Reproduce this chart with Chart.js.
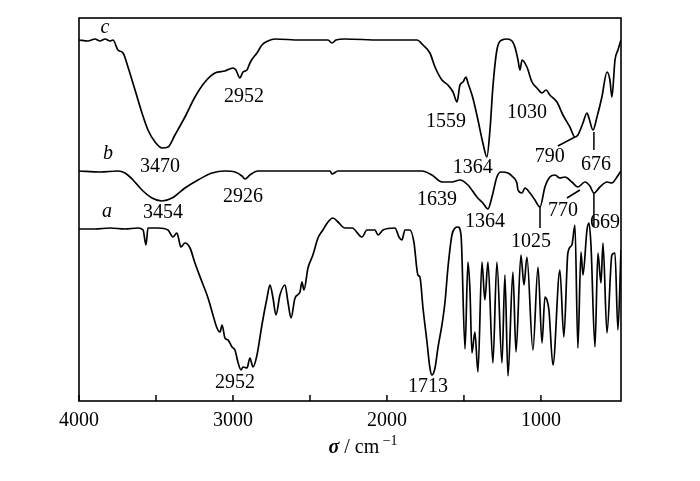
<!DOCTYPE html>
<html>
<head>
<meta charset="utf-8">
<script src="https://cdn.jsdelivr.net/npm/chart.js@4.4.0/dist/chart.umd.min.js"></script>
<style>
  html, body { margin: 0; padding: 0; background: #fff; }
</style>
</head>
<body>
<canvas id="irChart" width="700" height="481"></canvas>
<script>
// Wavenumber (cm-1) and relative transmittance (arbitrary units, curves offset)
const waveC = [4000, 3942, 3896, 3864, 3831, 3799, 3779, 3747, 3714, 3682, 3636, 3591, 3552, 3506, 3461, 3422, 3377, 3312, 3247, 3182, 3117, 3052, 3000, 2981, 2955, 2935, 2909, 2890, 2870, 2844, 2812, 2773, 2727, 2565, 2383, 2357, 2331, 2273, 2045, 1805, 1766, 1721, 1688, 1643, 1604, 1571, 1545, 1526, 1506, 1487, 1474, 1442, 1409, 1377, 1351, 1331, 1312, 1286, 1253, 1221, 1188, 1169, 1149, 1136, 1123, 1091, 1058, 1026, 993, 967, 942, 896, 857, 812, 779, 760, 727, 701, 688, 662, 636, 604, 571, 552, 539, 519, 500, 480];
const transC = [361, 360, 362, 360, 362, 360, 361, 351, 348, 334, 311, 288, 271, 259, 253, 254, 266, 284, 304, 319, 328, 330, 333, 331, 323, 329, 331, 338, 343, 348, 356, 360, 362, 361, 361, 358, 361, 362, 361, 361, 356, 348, 334, 321, 316, 309, 299, 316, 319, 324, 318, 303, 281, 258, 244, 271, 314, 351, 361, 362, 360, 354, 341, 331, 341, 334, 319, 313, 308, 311, 306, 299, 286, 274, 264, 266, 278, 288, 283, 271, 284, 304, 329, 321, 304, 341, 351, 361];

const waveB = [4000, 3864, 3747, 3701, 3649, 3591, 3526, 3461, 3396, 3312, 3227, 3136, 3052, 2987, 2942, 2922, 2890, 2838, 2565, 2370, 2357, 2318, 2045, 1773, 1708, 1643, 1578, 1526, 1474, 1416, 1377, 1344, 1318, 1286, 1260, 1214, 1182, 1156, 1149, 1123, 1104, 1071, 1039, 1006, 974, 942, 909, 877, 844, 799, 760, 714, 682, 656, 617, 571, 539, 506, 480];
const transB = [230, 229, 230, 228, 221, 211, 203, 200, 203, 213, 221, 228, 230, 229, 225, 222, 226, 230, 230, 230, 227, 230, 230, 230, 226, 219, 219, 221, 216, 204, 198, 192, 204, 224, 229, 228, 224, 218, 211, 208, 213, 208, 201, 194, 214, 224, 226, 223, 224, 219, 214, 219, 215, 208, 214, 219, 218, 224, 230];

const waveA = [4000, 3896, 3799, 3701, 3617, 3584, 3565, 3552, 3487, 3422, 3390, 3364, 3338, 3312, 3279, 3247, 3201, 3162, 3130, 3104, 3084, 3071, 3052, 3032, 3006, 2987, 2968, 2948, 2935, 2909, 2890, 2870, 2844, 2812, 2779, 2760, 2740, 2721, 2695, 2662, 2643, 2623, 2597, 2565, 2552, 2539, 2513, 2481, 2448, 2416, 2383, 2351, 2318, 2273, 2227, 2162, 2130, 2078, 2058, 2026, 1948, 1922, 1903, 1883, 1851, 1825, 1799, 1786, 1766, 1740, 1721, 1708, 1688, 1669, 1643, 1623, 1604, 1578, 1558, 1539, 1519, 1493, 1474, 1461, 1448, 1429, 1409, 1383, 1364, 1344, 1312, 1286, 1253, 1234, 1214, 1182, 1162, 1130, 1110, 1091, 1052, 1019, 993, 974, 961, 948, 922, 877, 851, 825, 799, 779, 760, 740, 727, 701, 688, 675, 649, 630, 610, 597, 571, 539, 519, 500, 480];
const transA = [172, 172, 173, 172, 173, 171, 156, 173, 173, 171, 164, 168, 154, 158, 153, 138, 119, 103, 86, 73, 69, 76, 63, 61, 54, 51, 39, 31, 34, 33, 43, 34, 46, 76, 103, 116, 103, 86, 106, 116, 99, 83, 103, 109, 119, 111, 133, 146, 163, 171, 179, 183, 179, 173, 173, 164, 171, 171, 166, 171, 173, 164, 161, 171, 171, 159, 126, 124, 93, 59, 33, 26, 33, 53, 76, 99, 133, 166, 173, 174, 166, 52, 139, 111, 48, 69, 29, 139, 101, 139, 38, 139, 38, 126, 25, 129, 49, 146, 116, 144, 51, 134, 58, 104, 101, 91, 36, 131, 64, 148, 156, 176, 53, 149, 126, 171, 178, 156, 54, 148, 118, 158, 68, 146, 148, 71, 151];

const xTicks = [4000, 3000, 2000, 1000];
const xMinorTicks = [3500, 2500, 1500];

// Peak labels: text, wavenumber of label centre, level of label centre
const peakText = ["3470", "2952", "1559", "1364", "1030", "790", "676",
                  "3454", "2926", "1639", "1364", "1025", "770", "669",
                  "2952", "1713"];
const peakWave = [3474, 2929, 1617, 1442, 1091, 942, 643,
                  3455, 2935, 1675, 1364, 1065, 857, 584,
                  2987, 1734];
const peakLevel = [234, 304, 279, 233, 288, 244, 236,
                   188, 204, 201, 179, 159, 190, 178,
                   18, 14];

// Curve names
const curveText = ["c", "b", "a"];
const curveWave = [3831, 3812, 3818];
const curveLevel = [373, 247, 189];

// Leader lines [w1, v1, w2, v2]
const leaders = [
  [890, 255, 779, 264],
  [656, 269, 656, 251],
  [831, 203, 747, 211],
  [1006, 195, 1006, 173],
  [656, 208, 656, 174],
];

const toPoints = (w, t) => w.map((v, i) => ({ x: v, y: t[i] }));

const serif = "'Liberation Serif', 'Times New Roman', serif";

const lineSet = (w, t) => ({
  data: toPoints(w, t),
  borderColor: "#000",
  borderWidth: 1.7,
  pointRadius: 0,
  fill: false,
  cubicInterpolationMode: "monotone",
});

// Frame, inward ticks, axis title and peak labels
const decor = {
  id: "decor",
  afterDraw(chart) {
    const { ctx, chartArea: a, scales } = chart;
    const xs = scales.x, ys = scales.y;
    ctx.save();
    ctx.strokeStyle = "#000";
    ctx.lineWidth = 1.6;
    ctx.strokeRect(a.left, a.top, a.right - a.left, a.bottom - a.top);

    ctx.lineWidth = 1.5;
    ctx.beginPath();
    xTicks.concat(xMinorTicks).forEach((v) => {
      const px = xs.getPixelForValue(v);
      ctx.moveTo(px, a.bottom);
      ctx.lineTo(px, a.bottom - 6);
    });
    leaders.forEach((l) => {
      ctx.moveTo(xs.getPixelForValue(l[0]), ys.getPixelForValue(l[1]));
      ctx.lineTo(xs.getPixelForValue(l[2]), ys.getPixelForValue(l[3]));
    });
    ctx.stroke();

    ctx.fillStyle = "#000";
    ctx.textAlign = "center";
    ctx.textBaseline = "middle";
    ctx.font = "20px " + serif;
    peakText.forEach((t, i) => {
      ctx.fillText(t, xs.getPixelForValue(peakWave[i]), ys.getPixelForValue(peakLevel[i]));
    });
    ctx.font = "italic 20px " + serif;
    curveText.forEach((t, i) => {
      ctx.fillText(t, xs.getPixelForValue(curveWave[i]), ys.getPixelForValue(curveLevel[i]));
    });

    // axis title: sigma / cm^-1
    const ty = 448;
    const parts = [
      { s: "σ", f: "bold italic 20px " + serif, dy: 0 },
      { s: " / cm", f: "20px " + serif, dy: 0 },
      { s: " \u22121", f: "14px " + serif, dy: -7 },
    ];
    let total = 0;
    parts.forEach((p) => {
      ctx.font = p.f;
      p.w = ctx.measureText(p.s).width;
      total += p.w;
    });
    ctx.textAlign = "left";
    let tx = 363 - total / 2;
    parts.forEach((p) => {
      ctx.font = p.f;
      ctx.fillText(p.s, tx, ty + p.dy);
      tx += p.w;
    });
    ctx.restore();
  },
};

new Chart(document.getElementById("irChart").getContext("2d"), {
  type: "line",
  data: {
    datasets: [lineSet(waveC, transC), lineSet(waveB, transB), lineSet(waveA, transA)],
  },
  options: {
    responsive: false,
    animation: false,
    devicePixelRatio: 1,
    layout: { padding: { left: 79, right: 79, top: 18, bottom: 0 } },
    plugins: { legend: { display: false }, tooltip: { enabled: false } },
    scales: {
      x: {
        type: "linear",
        reverse: true,
        min: 480,
        max: 4000,
        afterBuildTicks: (s) => {
          s.ticks = xTicks.map((v) => ({ value: v }));
        },
        afterFit: (s) => {
          s.height = 80;
        },
        grid: { display: false, drawTicks: false },
        border: { display: false },
        ticks: {
          color: "#000",
          padding: 8,
          maxRotation: 0,
          font: { family: serif, size: 20 },
          callback: (v) => String(v),
        },
      },
      y: {
        display: false,
        min: 0,
        max: 383,
      },
    },
  },
  plugins: [decor],
});
</script>
</body>
</html>
